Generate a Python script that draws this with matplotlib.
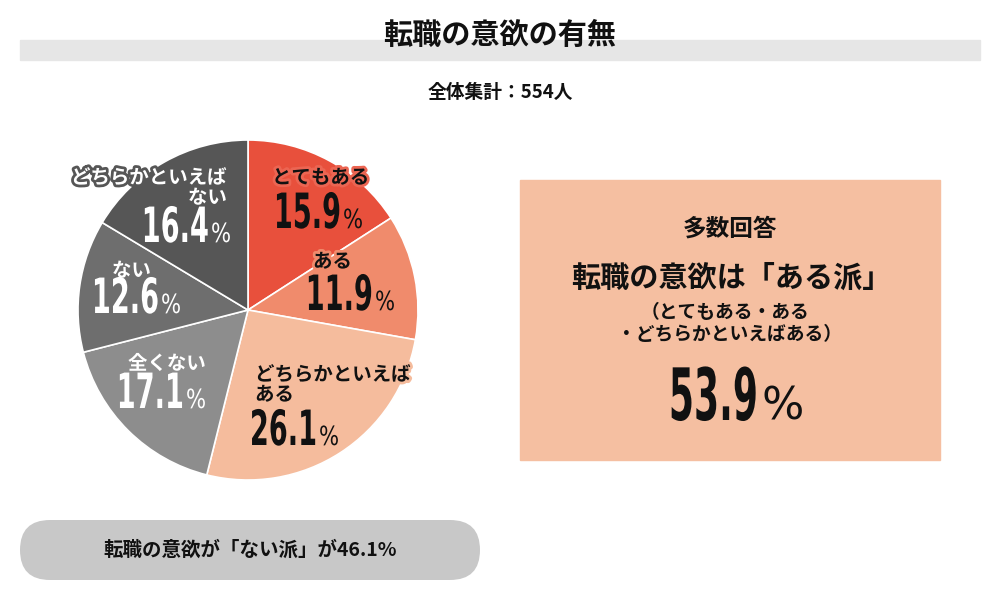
import matplotlib
matplotlib.use("Agg")
import matplotlib.pyplot as plt
import matplotlib.patheffects as pe
from matplotlib.patches import Rectangle, FancyBboxPatch
from matplotlib.transforms import Affine2D

JP = ['Noto Sans CJK JP', 'DejaVu Sans']
plt.rcParams['font.family'] = JP

# ---- data ----
categories = ['とてもある', 'ある', 'どちらかといえば\nある', '全くない', 'ない', 'どちらかといえば\nない']
values = [15.9, 11.9, 26.1, 17.1, 12.6, 16.4]
colors = ['#E8503C', '#F08B6C', '#F5BC9D', '#8D8D8D', '#6E6E6E', '#565656']
title = '転職の意欲の有無'
subtitle = '全体集計：554人'
box_head = '多数回答'
box_title = '転職の意欲は「ある派」'
box_sub = '（とてもある・ある\n・どちらかといえばある）'
box_value = 53.9
pill_text = '転職の意欲が「ない派」が46.1%'


class Stretch(pe.AbstractPathEffect):
    """Stretch glyphs vertically about the baseline (condensed, tall look)."""
    def __init__(self, sy, y0):
        super().__init__()
        self.sy = sy
        self.y0 = y0

    def draw_path(self, renderer, gc, tpath, affine, rgbFace=None):
        t = affine + Affine2D().translate(0, -self.y0).scale(1, self.sy).translate(0, self.y0)
        renderer.draw_path(gc, tpath, t, rgbFace)


fig = plt.figure(figsize=(10, 6), dpi=100)
ax = fig.add_axes([0, 0, 1, 1])
H = 600

def Y(y):
    return H - y

NUMF = dict(family=['DejaVu Sans'], weight='bold')
PCTF = dict(family=['DejaVu Sans'], weight='normal')

# header
ax.add_patch(Rectangle((20, Y(60)), 960, 20, color='#E6E6E6', zorder=1))
ax.text(500, Y(35), title, ha='center', va='center', fontsize=21, weight='bold', color='#111111', zorder=3)
ax.text(500, Y(92), subtitle, ha='center', va='center', fontsize=13.5, weight='bold', color='#111111')

# pie
cx, cy, r = 248, Y(310), 170
ax.pie(values, colors=colors, startangle=90, counterclock=False, center=(cx, cy), radius=r,
       wedgeprops=dict(edgecolor='white', linewidth=1.2), frame=True)

# label layout: (label x, label y, ha, number split x, baseline y, text color, stroke color)
layout = [
    (272, 178, 'left', 341, 228, '#111111', '#EC6552'),
    (313, 262, 'left', 373, 310, '#111111', '#F08B6C'),
    (255, 375, 'left', 317, 445, '#111111', '#F5BC9D'),
    (167, 364, 'center', 184, 408, 'white', '#8D8D8D'),
    (112, 271, 'left', 159, 313, 'white', '#6E6E6E'),
    (227, 178, 'right', 209, 242, 'white', '#565656'),
]
for cat, v, (lx, ly, ha, sx, by, tc, sc) in zip(categories, values, layout):
    lines = cat.split('\n')
    for i, ln in enumerate(lines):
        ax.text(lx, Y(ly + i * 20), ln, ha=ha, va='center', fontsize=14, weight='bold', color=tc,
                path_effects=[pe.withStroke(linewidth=4, foreground=sc)], zorder=5)
    ax.text(sx, Y(by), f'{v:.1f}', ha='right', va='baseline', fontsize=19.6, color=tc, zorder=5,
            path_effects=[Stretch(1.786, Y(by))], **NUMF)
    ax.text(sx + 2, Y(by), '%', ha='left', va='baseline', fontsize=15.2, color=tc, zorder=5,
            path_effects=[Stretch(1.25, Y(by))], **PCTF)

# right box
ax.add_patch(Rectangle((520, Y(460)), 420, 280, color='#F5BFA1', zorder=1))
ax.text(730, Y(229), box_head, ha='center', va='center', fontsize=17, weight='bold', color='#111111')
ax.text(731, Y(278), box_title, ha='center', va='center', fontsize=21, weight='bold', color='#111111')
sub_lines = box_sub.split('\n')
ax.text(725, Y(312), sub_lines[0], ha='center', va='center', fontsize=13.5, weight='bold', color='#111111')
ax.text(730, Y(334), sub_lines[1], ha='center', va='center', fontsize=13.5, weight='bold', color='#111111')
ax.text(758, Y(420), f'{box_value:.1f}', ha='right', va='baseline', fontsize=26, color='#111111',
        path_effects=[Stretch(2.0, Y(420))], **NUMF)
ax.text(761, Y(420), '%', ha='left', va='baseline', fontsize=32, color='#111111', **PCTF)

# bottom pill
ax.add_patch(FancyBboxPatch((20, Y(580)), 460, 60, boxstyle='round,pad=0,rounding_size=30',
                            facecolor='#C8C8C8', edgecolor='none', zorder=1))
ax.text(250, Y(550), pill_text, ha='center', va='center', fontsize=14, weight='bold', color='#111111')

ax.set_xlim(0, 1000)
ax.set_ylim(0, 600)
ax.set_aspect('auto')
ax.axis('off')
fig.savefig('out.png', dpi=100, facecolor='white')
